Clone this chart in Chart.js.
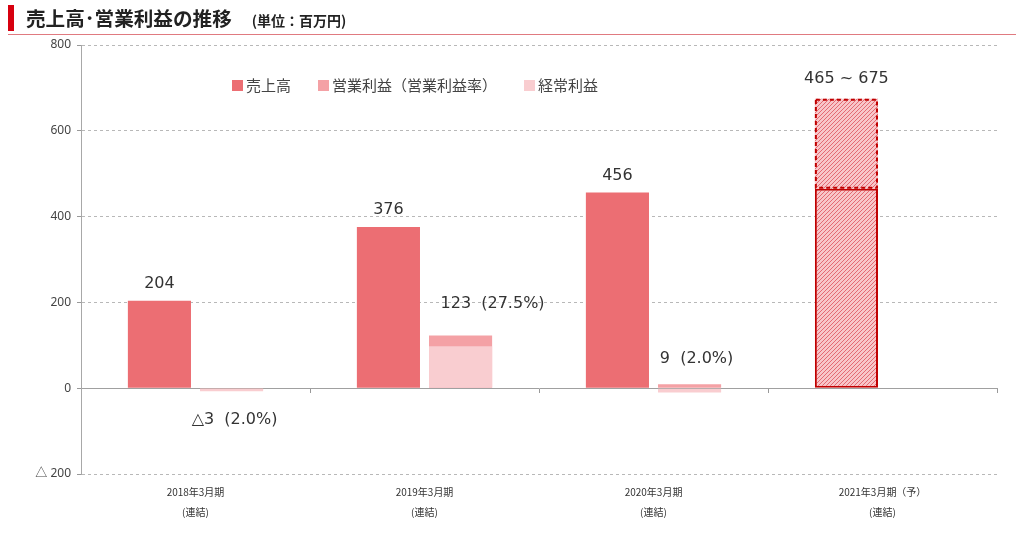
<!DOCTYPE html>
<html lang="ja">
<head>
<meta charset="utf-8">
<script src="https://cdn.jsdelivr.net/npm/chart.js@4.4.1/dist/chart.umd.min.js"></script>
<style>
html, body { margin: 0; padding: 0; background: #fff; }
#wrap { position: relative; width: 1024px; height: 541px; overflow: hidden; font-family: "Noto Sans CJK JP", "Noto Sans", sans-serif; }
#mainChart { position: absolute; left: 0; top: 0; }
.mark { position: absolute; left: 8px; top: 5px; width: 6px; height: 26px; background: #d7000f; }
.title { position: absolute; left: 26px; top: 4px; font-size: 19.6px; font-weight: bold; color: #222; line-height: 28px; white-space: nowrap; }
.title .unit { font-size: 14px; margin-left: 20px; }
.rule { position: absolute; left: 8px; top: 34px; width: 1008px; height: 1px; background: #e07a80; }
#legend { position: absolute; left: 232px; top: 75px; display: flex; font-size: 15px; color: #444; line-height: 20px; white-space: nowrap; }
#legend .item { display: flex; align-items: center; margin-right: 27px; }
#legend .sw { width: 11px; height: 11px; margin-right: 3px; }
</style>
</head>
<body>
<div id="wrap">
  <canvas id="mainChart" width="1024" height="541"></canvas>
  <div class="mark"></div>
  <div class="title">売上高･営業利益の推移<span class="unit">(単位：百万円)</span></div>
  <div class="rule"></div>
  <div id="legend"></div>
</div>
<script>
const categories = [
  ['2018年3月期', '(連結)'],
  ['2019年3月期', '(連結)'],
  ['2020年3月期', '(連結)'],
  ['2021年3月期（予）', '(連結)']
];
const sales = [204, 376, 456, null];
const operatingProfit = [-3, 123, 9, null];
const ordinaryProfit = [-7, 98, -10, null];
const forecastLow = [null, null, null, 465];
const forecastRange = [null, null, null, [465, 675]];

const salesLabels = ['204', '376', '456', null];
const opLabels = ['△3  (2.0%)', '123  (27.5%)', '9  (2.0%)', null];
const forecastLabel = '465 ~ 675';
const legendNames = ['売上高', '営業利益（営業利益率）', '経常利益'];

// diagonal hatch for the forecast bar
function hatch() {
    const c = document.createElement('canvas');
    c.width = 4; c.height = 4;
    const g = c.getContext('2d');
    g.fillStyle = '#f8c6c9';
    g.fillRect(0, 0, 4, 4);
    g.strokeStyle = '#e36a73';
    g.lineWidth = 1;
    g.beginPath();
    g.moveTo(0, 4); g.lineTo(4, 0);
    g.moveTo(-1, 1); g.lineTo(1, -1);
    g.moveTo(3, 5); g.lineTo(5, 3);
    g.stroke();
    return g.createPattern(c, 'repeat');
}

const valueLabels = {
    id: 'valueLabels',
    afterDatasetsDraw(chart) {
        const ctx = chart.ctx;
        ctx.save();
        ctx.font = '16px "DejaVu Sans", "Noto Sans CJK JP"';
        ctx.fillStyle = '#333';
        ctx.textAlign = 'center';
        ctx.textBaseline = 'middle';

        const s = chart.getDatasetMeta(0).data;
        salesLabels.forEach((t, i) => {
            if (t) ctx.fillText(t, s[i].x, s[i].y - 17);
        });

        const o = chart.getDatasetMeta(1).data;
        const shift = [[3, 30], [32, -32], [7, -25]];
        opLabels.forEach((t, i) => {
            if (t) ctx.fillText(t, o[i].x + shift[i][0], o[i].y + shift[i][1]);
        });

        // dashed outline round the forecast range
        const up = chart.getDatasetMeta(4).data[3];
        ctx.fillText(forecastLabel, up.x, up.y - 20);
        ctx.setLineDash([4, 3]);
        ctx.lineWidth = 2;
        ctx.strokeStyle = '#c00000';
        ctx.strokeRect(up.x - up.width / 2 + 1, up.y + 1, up.width - 2, up.base - up.y - 2);
        ctx.restore();
    }
};

const pat = hatch();
const colors = ['#ec6e73', '#f4a1a5', '#f9cdd0'];

const chart = new Chart(document.getElementById('mainChart').getContext('2d'), {
    type: 'bar',
    data: {
        labels: categories,
        datasets: [
            { label: legendNames[0], data: sales, backgroundColor: colors[0], stack: 'a' },
            { label: legendNames[1], data: operatingProfit, backgroundColor: colors[1], stack: 'b', order: 1 },
            { label: legendNames[2], data: ordinaryProfit, backgroundColor: colors[2], stack: 'b' },
            { label: 'low', data: forecastLow, backgroundColor: pat, borderColor: '#c00000', borderWidth: 2, borderSkipped: false, stack: 'a' },
            { label: 'range', data: forecastRange, backgroundColor: pat, borderWidth: 0, stack: 'a' }
        ]
    },
    options: {
        responsive: false,
        animation: false,
        devicePixelRatio: 1,
        layout: { padding: { top: 45, right: 27, left: 0, bottom: 0 } },
        datasets: { bar: { categoryPercentage: 0.63, barPercentage: 0.875 } },
        plugins: { legend: { display: false }, tooltip: { enabled: false } },
        scales: {
            x: {
                grid: { display: false },
                border: { display: false },
                ticks: { color: '#333', font: { family: '"Noto Sans CJK JP"', size: 10, lineHeight: 2 }, padding: 0, maxRotation: 0 },
                afterFit: sc => { sc.height = 67; }
            },
            x2: {
                type: 'category',
                position: { y: 0 },
                offset: true,
                grid: { offset: true, drawOnChartArea: false, drawTicks: true, tickLength: 4, tickColor: '#999' },
                border: { display: true, color: '#a0a0a0', width: 1 },
                ticks: { display: false }
            },
            y: {
                stacked: false,
                min: -200,
                max: 800,
                ticks: {
                    stepSize: 200,
                    color: '#444',
                    padding: 6,
                    font: { family: '"Noto Sans", "Noto Sans CJK JP"', size: 12 },
                    callback: v => v < 0 ? '△ ' + (-v) : v
                },
                grid: {
                    color: c => c.tick && c.tick.value === 0 ? 'rgba(0,0,0,0)' : '#b8b8b8',
                    tickLength: 4,
                    tickColor: '#999'
                },
                border: { display: true, color: '#a8a8a8', dash: [3, 3] },
                afterFit: sc => { sc.width = 81; }
            }
        }
    },
    plugins: [valueLabels]
});

document.getElementById('legend').innerHTML = legendNames.map((n, i) =>
    `<div class="item"><span class="sw" style="background:${colors[i]}"></span>${n}</div>`
).join('');
</script>
</body>
</html>
